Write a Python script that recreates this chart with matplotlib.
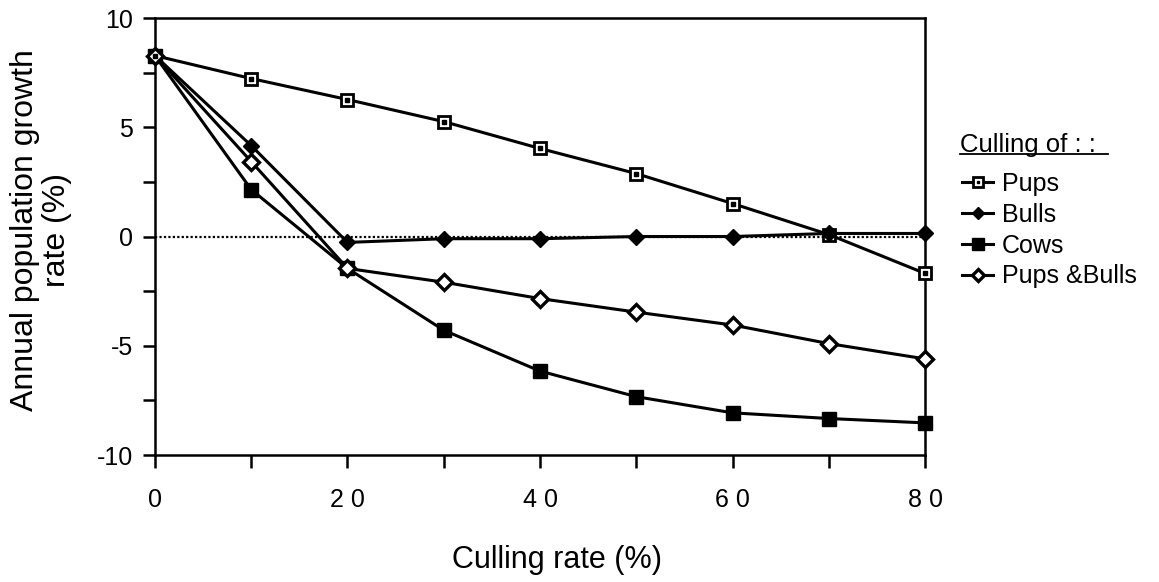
import numpy as np
import matplotlib
matplotlib.use("Agg")
import matplotlib.pyplot as plt
from matplotlib.lines import Line2D

plt.rcParams['font.family'] = ['Liberation Sans', 'DejaVu Sans']
plt.rcParams['axes.unicode_minus'] = False

# data
culling = [0, 10, 20, 30, 40, 50, 60, 70, 80]
pups = [8.28, 7.23, 6.27, 5.26, 4.03, 2.88, 1.51, 0.09, -1.69]
bulls = [8.28, 4.16, -0.27, -0.1, -0.1, 0.0, 0.0, 0.14, 0.14]
cows = [8.28, 2.15, -1.46, -4.29, -6.16, -7.33, -8.07, -8.33, -8.53]
pups_bulls = [8.28, 3.43, -1.46, -2.09, -2.84, -3.46, -4.05, -4.9, -5.6]
labels = ["Pups", "Bulls", "Cows", "Pups &Bulls"]
xtick_vals = [0, 20, 40, 60, 80]
xtick_labels = ["0", "2 0", "4 0", "6 0", "8 0"]

fig = plt.figure(figsize=(11.59, 5.82), dpi=100)
ax = fig.add_axes([0.1337, 0.2182, 0.6645, 0.7508])

ax.axhline(0, color="black", lw=1.6, ls=(0, (1, 1)), zorder=1)

lw = 2.2
h_pups, = ax.plot(culling, pups, color="black", lw=lw, marker="s", ms=9,
                  mfc="white", mec="black", mew=2, zorder=3, clip_on=False)
d_pups, = ax.plot(culling, pups, ls="none", marker="s", ms=2.2,
                  mfc="black", mec="black", zorder=4, clip_on=False)
h_bulls, = ax.plot(culling, bulls, color="black", lw=lw, marker="D", ms=8,
                   mfc="black", mec="black", zorder=3, clip_on=False)
h_cows, = ax.plot(culling, cows, color="black", lw=lw, marker="s", ms=10,
                  mfc="black", mec="black", zorder=3, clip_on=False)
h_pb, = ax.plot(culling, pups_bulls, color="black", lw=lw, marker="D", ms=8,
                mfc="white", mec="black", mew=2.4, zorder=3, clip_on=False)

ax.set_xlim(0, 80)
ax.set_ylim(-10, 10)
ax.set_xticks(np.arange(0, 81, 10), minor=True)
ax.set_xticks(xtick_vals)
ax.set_xticklabels(xtick_labels)
ax.set_yticks([-10, -5, 0, 5, 10])
ax.set_yticks(np.arange(-10, 10.1, 2.5), minor=True)
ax.tick_params(which="both", direction="out", width=1.8, length=9,
               labelsize=18)
ax.tick_params(axis="x", which="major", pad=15)
ax.tick_params(axis="y", which="major", pad=7)
for s in ax.spines.values():
    s.set_linewidth(1.8)

fig.text(0.4806, 0.0378, "Culling rate (%)", fontsize=22, ha="center",
         va="center")
fig.text(0.0354, 0.605, "Annual population growth\nrate (%)", fontsize=23,
         rotation=90, ha="center", va="center", multialignment="center",
         linespacing=1.05)

# legend with underlined title
fig.text(960 / 1159, 1 - 145 / 582, "Culling of : :", fontsize=18.5,
         va="center")
fig.add_artist(Line2D([960 / 1159, 1108 / 1159], [1 - 154 / 582, 1 - 154 / 582],
                      color="black", lw=1.3, transform=fig.transFigure))
leg = ax.legend([(h_pups, d_pups), h_bulls, h_cows, h_pb], labels,
                loc="upper left", bbox_to_anchor=(962 / 1159, 1 - 172 / 582),
                bbox_transform=fig.transFigure, frameon=False,
                fontsize=18, handlelength=1.25, handletextpad=0.35,
                labelspacing=0.27, borderpad=0, borderaxespad=0,
                markerscale=0.8)

fig.savefig("out.png", dpi=100)
